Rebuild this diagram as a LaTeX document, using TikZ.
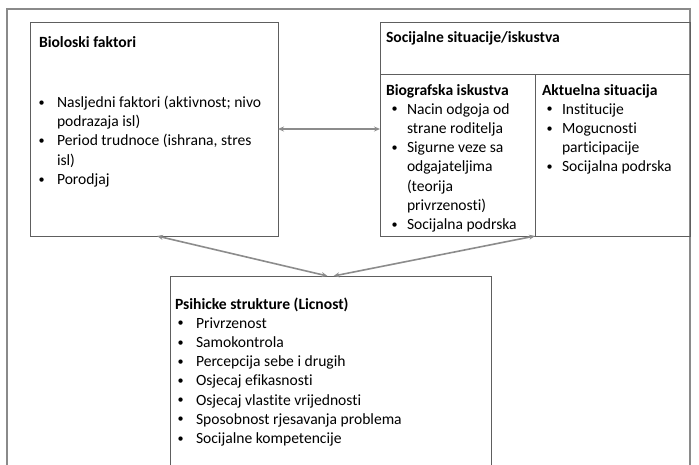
\documentclass[tikz,border=0pt]{standalone}
\usepackage{fontspec}
\setmainfont{Carlito}[Ligatures={NoCommon}]
\usetikzlibrary{arrows.meta}
\definecolor{framec}{HTML}{8A8A8A}
\definecolor{boxc}{HTML}{5E5E5E}
\definecolor{arrc}{HTML}{8C8C8C}
\newcommand\smbul{\raisebox{1.3pt}{\scalebox{0.78}{•}}}
\newcommand\bA[1]{\makebox[18.5pt][l]{\smbul}#1}
\newcommand\bB[1]{\makebox[15.5pt][l]{\smbul}#1}
\begin{document}
\begin{tikzpicture}[x=1pt,y=-1pt,
  box/.style={draw=boxc,line width=0.9pt,inner sep=0pt,outer sep=0pt,anchor=north west},
  txt/.style={anchor=base west,inner sep=0pt,outer sep=0pt,align=left,font=\fontsize{15.6}{19.2}\selectfont},
  ttl/.style={txt,font=\bfseries\fontsize{15.6}{19.2}\selectfont},
  link/.style={draw=arrc,line width=1.6pt,{Stealth[length=6pt,width=5pt]}-{Stealth[length=6pt,width=5pt]}}]
\useasboundingbox (0,0) rectangle (699,464);
\clip (0,0) rectangle (699,464);
\fill[white] (0,0) rectangle (699,464);
\draw[framec,line width=1.5pt] (7,470) -- (7,9) -- (690,9) -- (690,470);
% boxes
\node[box,minimum width=248pt,minimum height=214pt] (bio) at (30,22) {};
\node[box,minimum width=310pt,minimum height=214pt] (soc) at (380,22) {};
\draw[boxc,line width=0.9pt] (380,74) -- (690,74);
\draw[boxc,line width=0.9pt] (535,74) -- (soc.south);
\node[box,minimum width=321pt,minimum height=200pt] (psy) at (170,276) {};
% connectors
\draw[link] (bio.east) -- (soc.west);
\draw[link] ([xshift=3pt]bio.south) -- ([xshift=-3pt]psy.north);
\draw[link] (soc.south) -- ([xshift=3pt]psy.north);
% texts (base anchor = baseline of last line)
\node[ttl] (biot) at (39,47) {Bioloski faktori};
\node[txt] (biol) at (38.5,184.3) {\bA{Nasljedni faktori (aktivnost; nivo}\\\hspace*{18.5pt}podrazaja isl)\\\bA{Period trudnoce (ishrana, stres}\\\hspace*{18.5pt}isl)\\\bA{Porodjaj}};
\node[ttl] (soct) at (386,42) {Socijalne situacije/iskustva};
\node[ttl] (biogt) at (386,95) {Biografska iskustva};
\node[txt] (biogl) at (391.5,229.4) {\bB{Nacin odgoja od}\\\hspace*{15.5pt}strane roditelja\\\bB{Sigurne veze sa}\\\hspace*{15.5pt}odgajateljima\\\hspace*{15.5pt}(teorija\\\hspace*{15.5pt}privrzenosti)\\\bB{Socijalna podrska}};
\node[ttl] (aktt) at (542,95) {Aktuelna situacija};
\node[txt] (aktl) at (546.5,171.8) {\bB{Institucije}\\\bB{Mogucnosti}\\\hspace*{15.5pt}participacije\\\bB{Socijalna podrska}};
\node[ttl] (psyt) at (175,309) {Psihicke strukture (Licnost)};
\node[txt] (psyl) at (177.5,443.4) {\bA{Privrzenost}\\\bA{Samokontrola}\\\bA{Percepcija sebe i drugih}\\\bA{Osjecaj efikasnosti}\\\bA{Osjecaj vlastite vrijednosti}\\\bA{Sposobnost rjesavanja problema}\\\bA{Socijalne kompetencije}};
\end{tikzpicture}
\end{document}
